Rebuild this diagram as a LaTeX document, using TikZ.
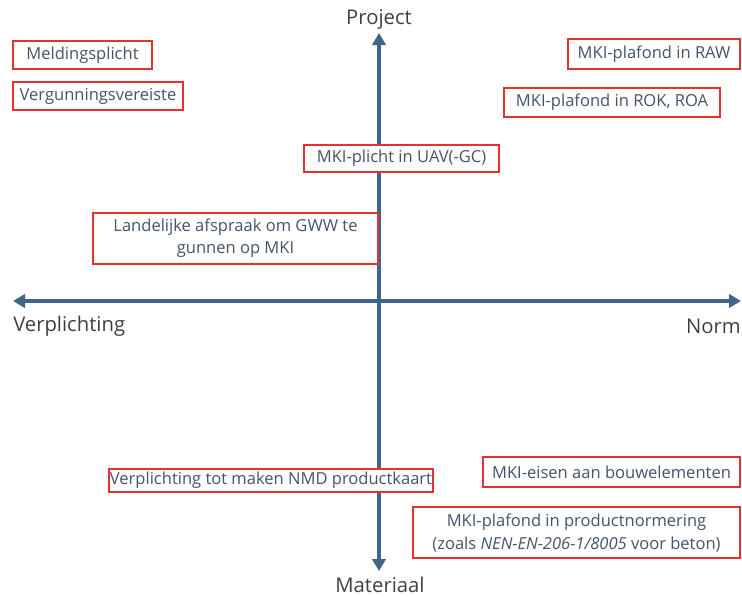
\documentclass[tikz,border=0pt]{standalone}
\usepackage{fontspec}
\setmainfont{Open Sans}
\usetikzlibrary{arrows.meta}
\definecolor{axiscol}{HTML}{41658A}
\definecolor{boxtext}{HTML}{44546A}
\definecolor{boxred}{HTML}{E8302F}
\definecolor{labcol}{HTML}{404040}
\tikzset{
  axisline/.style={draw=axiscol, line width=3pt, -{Triangle[length=9pt,width=10pt]}},
  boxnode/.style={draw=boxred, line width=1.5pt, fill=white, text=boxtext, font=\fontsize{12.4}{16.5}\selectfont, inner sep=0pt, align=center},
  axislabel/.style={text=labcol, font=\fontsize{15.2}{18}\selectfont, inner sep=0pt}
}
\begin{document}
\begin{tikzpicture}[x=0.75pt,y=-0.75pt]
\useasboundingbox (0,0) rectangle (742,596);
\coordinate (vc) at (379,301);
\coordinate (top) at (379,33);
\coordinate (bot) at (379,571);
\coordinate (lft) at (13,301);
\coordinate (rgt) at (741,301);
\draw[axisline] (vc) -- (top);
\draw[axisline] (vc) -- (bot);
\draw[axisline] (vc) -- (lft);
\draw[axisline] (vc) -- (rgt);
\node[axislabel] (project) at (379,19) {Project};
\node[axislabel] (materiaal) at (380,585) {Materiaal};
\node[axislabel, anchor=west] (verpl) at (13,326) {Verplichting};
\node[axislabel, anchor=east] (norm) at (741,326) {Norm};

\node[boxnode, minimum width=104.25pt, minimum height=21pt] (b1) at (82.5,55) {Meldingsplicht};
\node[boxnode, minimum width=127.5pt, minimum height=21pt] (b2) at (98,96) {Vergunningsvereiste};
\node[boxnode, minimum width=129pt, minimum height=22.5pt] (b3) at (654,54) {MKI-plafond in RAW};
\node[boxnode, minimum width=162pt, minimum height=21.75pt] (b4) at (612,102.5) {MKI-plafond in ROK, ROA};
\node[boxnode, minimum width=146.25pt, minimum height=20.25pt] (b5) at (401.5,158.5) {MKI-plicht in UAV(-GC)};
\node[boxnode, minimum width=213.75pt, minimum height=38.25pt] (b6) at (235.5,238.5) {Landelijke afspraak om GWW te\\gunnen op MKI};
\node[boxnode, minimum width=243pt, minimum height=17.25pt] (b7) at (271,480.5) {Verplichting tot maken NMD productkaart};
\node[boxnode, minimum width=192.75pt, minimum height=22.5pt] (b8) at (611.5,472) {MKI-eisen aan bouwelementen};
\node[boxnode, minimum width=245.25pt, minimum height=38.25pt, font=\fontsize{12.4}{17.25}\selectfont] (b9) at (576.5,532.5) {MKI-plafond in productnormering\\(zoals \textit{NEN-EN-206-1/8005} voor beton)};
\end{tikzpicture}
\end{document}
